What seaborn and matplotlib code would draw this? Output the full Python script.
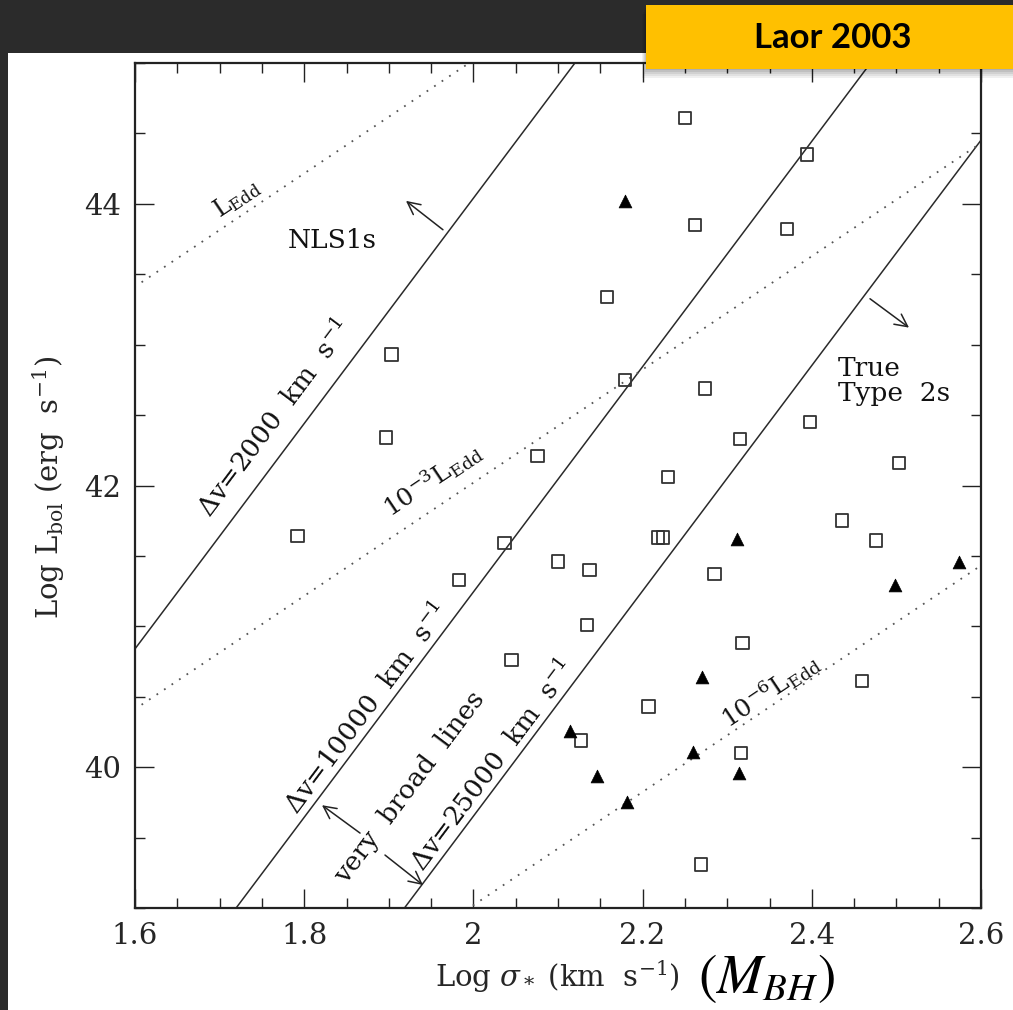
import numpy as np
import matplotlib
matplotlib.use("Agg")
import matplotlib.pyplot as plt
from matplotlib.patches import Rectangle
from matplotlib.ticker import MultipleLocator, FixedLocator
import seaborn as sns

# ---------------------------------------------------------------------------
# Data: log sigma_* (km/s) and log L_bol (erg/s)
# ---------------------------------------------------------------------------
# Broad-line objects (open squares)
sq_logsigma = [2.250, 2.394, 2.262, 2.371, 2.158, 2.179, 2.274, 2.315, 2.398,
               2.230, 2.503, 1.903, 1.897, 2.076, 1.792, 1.983, 2.037, 2.100,
               2.045, 2.137, 2.134, 2.218, 2.224, 2.436, 2.476, 2.285, 2.318,
               2.459, 2.207, 2.127, 2.316, 2.269]
sq_logL = [44.61, 44.35, 43.85, 43.82, 43.34, 42.75, 42.69, 42.33, 42.45,
           42.06, 42.16, 42.93, 42.34, 42.21, 41.64, 41.33, 41.59, 41.46,
           40.76, 41.40, 41.01, 41.63, 41.63, 41.75, 41.61, 41.37, 40.88,
           40.61, 40.43, 40.19, 40.10, 39.31]

# Objects without detected broad lines (filled triangles)
tri_logsigma = [2.179, 2.114, 2.312, 2.574, 2.498, 2.270, 2.260, 2.146, 2.3135, 2.182]
tri_logL = [44.02, 40.26, 41.62, 41.46, 41.29, 40.64, 40.11, 39.94, 39.96, 39.75]

# Loci of constant broad-line width: log L = 8 log sigma + c
dv_values = [2000, 10000, 25000]
dv_intercepts = [28.04, 25.244, 23.652]
dv_slope = 8.0

# Loci of constant Eddington ratio: log L = 4.02 log sigma + c
edd_ratios = [1.0, 1e-3, 1e-6]
edd_intercepts = [36.98, 33.98, 30.98]
edd_slope = 4.02

x_ticks = [1.6, 1.8, 2.0, 2.2, 2.4, 2.6]
x_ticklabels = ["1.6", "1.8", "2", "2.2", "2.4", "2.6"]
y_ticks = [40, 42, 44]
y_ticklabels = ["40", "42", "44"]

# ---------------------------------------------------------------------------
sns.set_style("ticks")
plt.rcParams["font.family"] = ["DejaVu Serif", "DejaVu Sans"]
plt.rcParams["mathtext.fontset"] = "dejavuserif"

W, H = 1013, 1010
fig = plt.figure(figsize=(W / 100, H / 100), dpi=100, facecolor="#2b2b2b")

# white page behind the plot
fig.patches.append(Rectangle((8 / W, 0), 1, 1 - 53 / H, transform=fig.transFigure,
                             facecolor="white", edgecolor="none", zorder=-10))

ax = fig.add_axes([135 / W, 1 - 908 / H, 846 / W, 845 / H])
ax.set_facecolor("white")

line_color = "#2a2a2a"
dot_color = "#555555"
x_line = np.array([1.4, 2.8])

for c in dv_intercepts:
    sns.lineplot(x=x_line, y=dv_slope * x_line + c, ax=ax, color=line_color,
                 lw=1.1, zorder=2)
for c in edd_intercepts:
    sns.lineplot(x=x_line, y=edd_slope * x_line + c, ax=ax, color=dot_color,
                 lw=1.3, linestyle=(0, (1, 4)), zorder=2)

sns.scatterplot(x=sq_logsigma, y=sq_logL, ax=ax, marker="s", s=80,
                color="#333333", facecolor="none", edgecolor="#333333",
                linewidth=1.3, zorder=3)
sns.scatterplot(x=tri_logsigma, y=tri_logL, ax=ax, marker="^", s=85,
                color="black", edgecolor="black", linewidth=0.5, zorder=3)

ax.set_xlim(1.6, 2.6)
ax.set_ylim(39, 45)
ax.xaxis.set_major_locator(FixedLocator(x_ticks))
ax.set_xticklabels(x_ticklabels)
ax.yaxis.set_major_locator(FixedLocator(y_ticks))
ax.set_yticklabels(y_ticklabels)
ax.xaxis.set_minor_locator(MultipleLocator(0.05))
ax.yaxis.set_minor_locator(MultipleLocator(0.5))
ax.tick_params(which="both", direction="in", top=True, right=True,
               color="#222222", width=1.0)
ax.tick_params(which="major", length=14, labelsize=21, pad=10)
ax.tick_params(which="minor", length=7)
for sp in ax.spines.values():
    sp.set_linewidth(1.6)
    sp.set_color("#222222")

ax.set_xlabel(r"Log $\sigma_*$ (km  s$^{-1}$)", fontsize=21)
ax.xaxis.set_label_coords(0.4988, -0.060)
ax.set_ylabel(r"Log L$_{\rm bol}$ (erg  s$^{-1}$)", fontsize=21)
ax.yaxis.set_label_coords(-0.080, 0.498)

fig.text(766 / W, 1 - 978 / H, r"$\left(M_{BH}\right)$", fontsize=40,
         math_fontfamily="stix", ha="center", va="center", color="black")

# annotations along the model loci
ang_dv = np.degrees(np.arctan(dv_slope / 6.0))
ang_edd = np.degrees(np.arctan(edd_slope / 6.0))
tkw = dict(ha="center", va="center", color="#111111", rotation_mode="anchor")

ax.text(1.7206, 44.04, r"L$_{\rm Edd}$", fontsize=17, rotation=ang_edd, **tkw)
ax.text(1.951, 42.04, r"10$^{-3}$L$_{\rm Edd}$", fontsize=18, rotation=ang_edd, **tkw)
ax.text(2.3506, 40.546, r"10$^{-6}$L$_{\rm Edd}$", fontsize=18, rotation=ang_edd, **tkw)
ax.text(1.7655, 42.475, r"$\Delta$v=2000  km  s$^{-1}$", fontsize=19, rotation=ang_dv, **tkw)
ax.text(1.874, 40.418, r"$\Delta$v=10000  km  s$^{-1}$", fontsize=19, rotation=ang_dv, **tkw)
ax.text(2.0232, 40.014, r"$\Delta$v=25000  km  s$^{-1}$", fontsize=19, rotation=ang_dv, **tkw)
ax.text(1.925, 39.858, "very  broad  lines", fontsize=19, rotation=ang_dv, **tkw)
ax.text(1.833, 43.74, "NLS1s", fontsize=19, ha="center", va="center", color="#111111")
ax.text(2.431, 42.745, "True\nType  2s", fontsize=19, ha="left", va="center",
        color="#111111", linespacing=1.0)

akw = dict(arrowstyle="->,head_length=0.9,head_width=0.45", color="#222222", lw=1.1,
           shrinkA=0, shrinkB=0)
ax.annotate("", xy=(1.9203, 44.021), xytext=(1.964, 43.816), arrowprops=akw)
ax.annotate("", xy=(2.5149, 43.121), xytext=(2.4688, 43.326), arrowprops=akw)
ax.annotate("", xy=(1.821, 39.730), xytext=(1.866, 39.532), arrowprops=akw)
ax.annotate("", xy=(1.9404, 39.163), xytext=(1.8955, 39.376), arrowprops=akw)

# reference tag, with a soft drop shadow
bx0, by_top, by_bot = 646, 5, 69
for i, a in enumerate([0.06, 0.06, 0.07, 0.08, 0.09]):
    off = 9 - 2 * i
    fig.patches.append(Rectangle(((bx0 - off * 0.5) / W, 1 - (by_bot + off) / H),
                                 1, (by_bot - by_top) / H, transform=fig.transFigure,
                                 facecolor="black", alpha=a, edgecolor="none", zorder=5))
fig.patches.append(Rectangle((bx0 / W, 1 - by_bot / H), 1, (by_bot - by_top) / H,
                             transform=fig.transFigure, facecolor="#FFC000",
                             edgecolor="none", zorder=6))
fig.text(833 / W, 1 - 38 / H, "Laor 2003", fontsize=25, fontweight="bold",
         family="Lato", ha="center", va="center", color="black", zorder=7)

fig.savefig("out.png", dpi=100, facecolor=fig.get_facecolor())
